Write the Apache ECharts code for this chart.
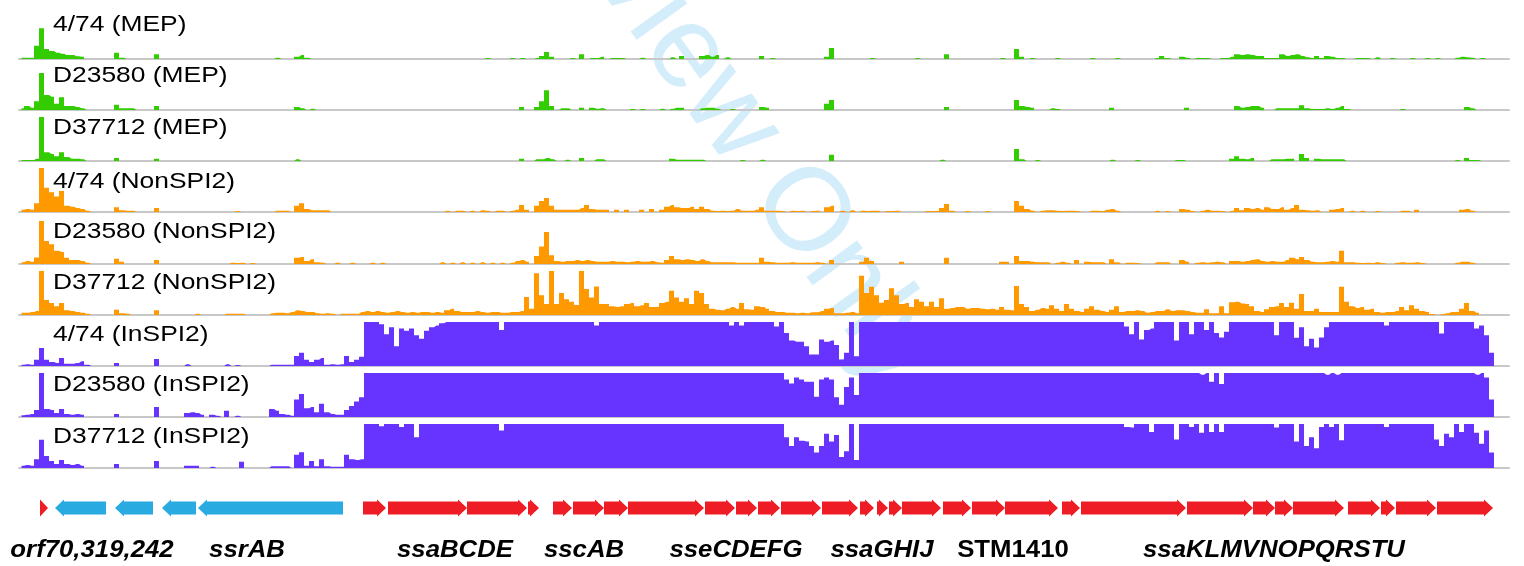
<!DOCTYPE html>
<html>
<head>
<meta charset="utf-8">
<script src="https://cdn.jsdelivr.net/npm/echarts/dist/echarts.min.js"></script>
<style>
html,body{margin:0;padding:0;background:#fff;}
#main{width:1524px;height:566px;}
</style>
</head>
<body>
<div id="main"></div>
<script>
// ---------------- DATA ----------------
const NBINS = 298; // genomic bins across the SPI-2 region
const binIndex = Array.from({length: NBINS}, (_, i) => i);

const trackLabels = ['4/74 (MEP)','D23580 (MEP)','D37712 (MEP)',
  '4/74 (NonSPI2)','D23580 (NonSPI2)','D37712 (NonSPI2)',
  '4/74 (InSPI2)','D23580 (InSPI2)','D37712 (InSPI2)'];

// MEP coverage (sparse: [bin, relative coverage %])
const mep474 = [[0,3],[1,3],[2,3],[3,30],[4,70],[5,23],[6,18],[7,14],[8,12],[9,9],[10,9],[11,6],[12,5],[19,14],[20,3],[27,11],[51,3],[55,5],[56,9],[57,3],[93,2],[98,2],[100,2],[103,2],[104,7],[105,16],[106,5],[110,2],[112,11],[114,2],[115,2],[116,5],[118,2],[119,2],[120,2],[124,3],[130,4],[132,7],[136,7],[137,9],[138,5],[139,9],[141,4],[148,7],[150,2],[161,5],[162,25],[170,2],[179,2],[185,11],[196,2],[199,23],[200,5],[202,2],[207,2],[214,2],[219,2],[227,2],[228,7],[229,2],[232,5],[233,3],[235,2],[236,2],[237,2],[240,2],[241,2],[242,5],[243,11],[244,9],[245,11],[246,9],[247,7],[248,7],[249,2],[250,2],[251,2],[252,11],[253,7],[254,9],[255,11],[256,7],[257,4],[258,2],[259,7],[260,2],[261,7],[262,5],[263,2],[264,2],[267,2],[268,2],[269,2],[271,4],[274,2],[278,2],[281,2],[283,2],[287,3],[288,5],[289,4],[290,3],[292,2]];
const mep23580 = [[0,4],[1,9],[2,5],[3,20],[4,84],[5,34],[6,30],[7,14],[8,29],[9,9],[10,9],[11,7],[12,4],[19,12],[20,4],[21,4],[22,4],[27,9],[55,7],[56,4],[58,3],[100,7],[103,7],[104,20],[105,45],[106,9],[108,4],[109,4],[112,5],[114,5],[115,3],[116,4],[122,2],[124,2],[128,3],[130,3],[131,5],[132,5],[136,4],[137,5],[138,5],[139,3],[142,2],[148,7],[149,5],[161,14],[162,23],[185,7],[199,23],[200,9],[201,7],[202,5],[206,4],[207,2],[218,5],[233,5],[243,9],[244,5],[245,7],[246,9],[247,9],[248,5],[251,4],[252,4],[253,4],[254,4],[255,4],[256,11],[257,4],[258,2],[259,2],[260,2],[261,4],[262,2],[263,5],[264,9],[265,2],[276,2],[289,7],[290,4]];
const mep37712 = [[0,2],[1,2],[2,2],[3,5],[4,100],[5,20],[6,16],[7,11],[8,20],[9,9],[10,5],[11,5],[12,4],[19,7],[27,5],[55,4],[100,5],[103,4],[104,4],[105,7],[106,4],[109,3],[112,7],[115,4],[116,4],[130,5],[131,3],[132,3],[133,3],[134,3],[135,3],[136,3],[144,2],[148,3],[162,14],[184,3],[199,27],[200,4],[203,2],[218,3],[223,2],[231,2],[232,2],[242,5],[243,11],[244,5],[245,4],[246,7],[250,4],[251,4],[252,4],[253,5],[254,5],[256,16],[257,7],[259,5],[260,4],[261,4],[262,4],[263,4],[264,4],[287,2],[289,7],[290,2],[291,2]];

// NonSPI2 coverage
const non474 = [[0,5],[1,7],[2,5],[3,20],[4,100],[5,55],[6,45],[7,35],[8,48],[9,14],[10,12],[11,9],[12,7],[13,3],[19,11],[20,4],[21,3],[22,3],[27,9],[43,2],[51,3],[52,3],[53,3],[55,14],[56,20],[57,7],[58,4],[59,4],[60,4],[61,4],[85,3],[87,3],[88,3],[90,3],[92,4],[93,3],[95,3],[96,3],[98,3],[99,5],[100,16],[101,5],[103,14],[104,25],[105,32],[106,14],[107,5],[108,5],[109,5],[110,5],[111,5],[112,9],[113,16],[114,7],[115,5],[116,5],[117,5],[119,5],[121,5],[124,5],[126,7],[128,5],[129,12],[130,16],[131,11],[132,9],[133,9],[134,12],[135,7],[136,12],[137,7],[138,3],[139,2],[140,3],[141,2],[142,3],[143,7],[144,3],[145,3],[146,3],[147,5],[148,11],[149,3],[150,3],[151,3],[152,2],[154,3],[155,2],[156,3],[158,2],[159,3],[161,11],[162,14],[164,3],[166,4],[168,3],[169,2],[170,3],[171,3],[173,2],[174,2],[175,3],[181,2],[182,2],[183,2],[184,9],[185,18],[186,3],[189,2],[193,2],[199,25],[200,14],[201,7],[202,3],[204,3],[205,4],[206,4],[207,3],[208,2],[209,3],[210,3],[211,2],[214,3],[215,3],[216,2],[217,5],[218,7],[219,3],[227,3],[229,2],[232,7],[233,5],[234,2],[236,3],[237,5],[238,3],[239,3],[240,2],[242,3],[243,9],[244,4],[245,9],[246,7],[247,9],[248,5],[249,11],[250,7],[251,7],[252,11],[253,5],[254,9],[255,16],[256,5],[257,4],[258,3],[259,4],[262,5],[263,7],[264,9],[266,3],[268,3],[271,2],[276,3],[277,3],[279,5],[288,5],[289,7],[290,3]];
const non23580 = [[0,4],[1,7],[2,5],[3,15],[4,98],[5,52],[6,45],[7,30],[8,27],[9,14],[10,9],[11,9],[12,7],[13,3],[19,12],[20,5],[27,9],[42,3],[43,2],[44,3],[46,2],[55,14],[56,16],[57,7],[58,11],[59,4],[60,3],[63,3],[66,3],[70,3],[72,3],[84,4],[86,3],[88,4],[90,3],[92,4],[94,3],[96,3],[98,3],[99,7],[100,9],[101,5],[103,18],[104,40],[105,73],[106,20],[107,7],[108,5],[109,7],[110,7],[111,9],[112,7],[113,9],[114,7],[115,5],[116,5],[117,5],[118,7],[119,5],[120,5],[121,4],[122,5],[123,7],[124,5],[125,5],[126,7],[127,4],[128,3],[129,9],[130,18],[131,11],[132,9],[133,11],[134,9],[135,7],[136,11],[137,7],[138,4],[139,4],[140,4],[141,4],[142,4],[143,3],[144,3],[145,3],[146,3],[147,3],[148,14],[149,5],[150,4],[151,3],[152,3],[153,3],[154,4],[155,3],[156,3],[157,3],[158,3],[159,4],[160,3],[162,9],[168,5],[169,14],[170,7],[176,5],[185,14],[196,5],[197,5],[199,18],[200,7],[201,7],[202,5],[203,4],[204,4],[205,4],[207,3],[208,5],[209,3],[211,9],[213,5],[214,4],[215,4],[216,4],[218,11],[219,4],[221,3],[222,3],[223,2],[227,4],[228,4],[229,4],[232,9],[233,5],[235,3],[236,4],[237,3],[238,4],[239,5],[240,4],[242,7],[243,7],[244,5],[245,7],[246,9],[247,11],[248,7],[249,5],[250,7],[251,5],[252,5],[253,9],[254,14],[255,11],[256,16],[257,9],[258,5],[259,4],[260,4],[261,5],[262,7],[263,5],[264,30],[265,4],[266,4],[267,3],[268,2],[269,3],[270,2],[271,4],[272,2],[275,3],[276,4],[277,3],[278,3],[279,4],[280,2],[287,3],[288,5],[289,5],[290,3]];
const non37712 = [
5,5,7,9,100,34,27,20,27,11,
9,7,5,3,0,0,0,0,0,12,
4,3,0,0,0,0,0,11,0,0,
0,0,0,0,0,3,0,0,0,0,
0,3,3,3,3,0,0,0,0,0,
4,5,5,4,7,11,9,7,7,4,
3,4,3,0,3,3,3,3,7,9,
7,9,7,5,7,9,7,5,7,5,
7,7,5,7,5,11,14,9,7,7,
7,9,7,5,7,7,5,5,7,7,
9,41,14,95,45,25,100,25,50,36,
30,23,100,59,40,65,25,25,20,18,
20,25,27,20,22,27,18,18,27,30,
55,40,30,38,25,55,50,25,14,12,
11,14,18,14,27,13,12,20,18,14,
9,7,7,5,5,4,5,4,6,6,
9,14,16,4,4,5,7,4,89,50,
64,45,28,34,61,45,25,27,18,36,
30,20,30,18,38,14,16,18,18,14,
16,16,14,13,14,12,18,12,11,66,
25,18,9,12,16,14,22,14,9,25,
14,9,7,14,20,12,9,7,12,20,
7,9,9,11,9,5,7,9,9,13,
9,11,11,9,7,5,5,13,4,4,
20,4,29,30,26,25,20,9,7,13,
18,20,27,18,28,14,48,9,9,14,
7,7,7,7,64,30,20,16,18,12,
14,7,5,7,7,9,18,11,22,14,
9,7,2,0,2,4,7,7,14,27,
9,5,0,0,0,0,0,0];

// InSPI2 coverage
const in474 = [
3,4,3,14,41,14,9,7,18,5,
5,7,11,3,0,0,0,0,0,7,
0,0,0,0,0,0,0,16,0,0,
0,0,0,4,0,0,0,0,0,0,
0,4,0,2,0,0,0,0,0,0,
3,3,3,3,3,23,30,14,9,14,
18,3,4,3,4,23,9,14,21,100,
100,100,95,72,88,45,85,80,85,70,
62,80,88,92,97,100,100,100,100,100,
100,100,100,100,100,100,82,100,100,100,
100,100,100,100,100,100,100,100,100,100,
100,100,100,100,100,92,100,100,100,100,
100,100,100,100,100,100,100,100,100,100,
100,100,100,100,100,100,100,100,100,100,
100,100,92,100,92,100,100,100,100,100,
100,90,100,75,58,55,55,45,26,26,
60,55,58,48,15,30,100,22,100,100,
100,100,100,100,100,100,100,100,100,100,
100,100,100,100,100,100,100,100,100,100,
100,100,100,100,100,100,100,100,100,100,
100,100,100,100,100,100,100,100,100,100,
100,100,100,100,100,100,100,100,100,100,
100,90,72,100,60,82,85,100,100,100,
100,58,100,100,72,100,100,82,100,75,
65,78,100,100,100,100,100,100,100,100,
100,70,100,100,100,64,88,45,62,42,
65,88,100,100,100,100,100,100,100,100,
100,100,100,92,100,100,100,100,100,100,
100,100,100,100,74,100,100,100,100,100,
100,85,92,70,30,0,0,0];
const in23580 = [
4,5,7,16,100,18,16,9,18,7,
5,7,5,0,0,0,0,0,0,7,
0,0,0,0,0,0,0,23,0,0,
0,0,0,9,11,9,5,0,5,3,
0,14,0,3,0,0,0,0,0,0,
18,14,7,5,3,40,52,20,23,11,
30,11,7,5,5,16,25,35,45,100,
100,100,100,100,100,100,100,100,100,100,
100,100,100,100,100,100,100,100,100,100,
100,100,100,100,100,100,100,100,100,100,
100,100,100,100,100,100,100,100,100,100,
100,100,100,100,100,100,100,100,100,100,
100,100,100,100,100,100,100,100,100,100,
100,100,100,100,100,100,100,100,100,100,
100,100,100,100,100,100,100,100,100,100,
100,100,100,85,76,90,85,80,80,46,
85,90,85,45,28,68,90,50,100,100,
100,100,100,100,100,100,100,100,100,100,
100,100,100,100,100,100,100,100,100,100,
100,100,100,100,100,100,100,100,100,100,
100,100,100,100,100,100,100,100,100,100,
100,100,100,100,100,100,100,100,100,100,
100,100,100,100,100,100,100,100,100,100,
100,100,100,100,100,100,96,100,80,100,
75,100,100,100,100,100,100,100,100,100,
100,100,100,100,100,100,100,100,100,100,
100,96,100,96,100,100,100,100,100,100,
100,100,100,100,100,100,100,100,100,100,
100,100,100,100,100,100,100,100,100,100,
100,96,100,90,40,0,0,0];
const in37712 = [
5,7,5,20,64,27,16,9,18,9,
7,9,5,0,0,0,0,0,0,9,
0,0,0,0,0,0,0,16,0,0,
0,0,0,5,5,5,0,0,3,0,
0,0,0,0,14,0,0,0,0,0,
4,4,4,4,0,30,36,5,16,4,
20,4,3,3,3,30,20,18,20,100,
100,100,95,100,100,100,93,100,100,70,
100,100,100,100,100,100,100,100,100,100,
100,100,100,100,100,100,85,100,100,100,
100,100,100,100,100,100,100,100,100,100,
100,100,100,100,100,100,100,100,100,100,
100,100,100,100,100,100,100,100,100,100,
100,100,100,100,100,100,100,100,100,100,
100,100,100,100,100,100,100,100,100,100,
100,100,100,70,50,70,62,60,50,35,
50,78,60,75,25,38,100,18,100,100,
100,100,100,100,100,100,100,100,100,100,
100,100,100,100,100,100,100,100,100,100,
100,100,100,100,100,100,100,100,100,100,
100,100,100,100,100,100,100,100,100,100,
100,100,100,100,100,100,100,100,100,100,
100,93,92,100,100,100,82,100,100,100,
100,65,100,100,93,100,80,100,82,100,
82,100,100,100,100,100,100,100,100,100,
100,92,100,100,100,60,100,50,70,45,
93,100,93,100,63,100,100,100,100,100,
100,100,100,93,100,100,100,100,100,100,
100,100,100,65,50,78,70,100,82,100,
100,80,55,85,35,0,0,0];

// Genes (in bin units), strand +1 forward / -1 reverse
const geneStart  = [4.2,7.2,19.2,28.6,35.8,68.8,73.8,89.6,101.8,106.8,110.8,117.0,121.8,137.2,143.4,147.8,152.4,160.6,168.2,171.6,174.0,176.6,184.8,190.6,197.2,208.6,212.4,233.6,246.8,251.2,254.8,265.8,272.4,275.4,283.6];
const geneEnd    = [5.8,17.4,26.8,35.4,64.8,73.4,89.6,101.6,104.0,110.6,117.0,121.8,137.0,143.2,147.6,152.2,160.4,167.8,171.0,173.8,176.6,184.4,190.4,197.2,207.8,212.2,233.4,246.8,251.2,254.8,265.0,272.2,275.2,283.4,294.8];
const geneStrand = [1,-1,-1,-1,-1,1,1,1,1,1,1,1,1,1,1,1,1,1,1,1,1,1,1,1,1,1,1,1,1,1,1,1,1,1,1];
const geneLabels = ['orf70,319,242','ssrAB','ssaBCDE','sscAB','sseCDEFG','ssaGHIJ','STM1410','ssaKLMVNOPQRSTU'];
const geneLabelItalic = [true,true,true,true,true,true,false,true];

// ---------------- LAYOUT / STYLE ----------------
function fromPairs(pairs){ const a = new Array(NBINS).fill(0); pairs.forEach(p => { a[p[0]] = p[1]; }); return a; }
const trackData = [fromPairs(mep474), fromPairs(mep23580), fromPairs(mep37712),
  fromPairs(non474), fromPairs(non23580), non37712, in474, in23580, in37712];
const GREEN = '#33cc00', ORANGE = '#ff9900', PURPLE = '#6633ff';
const trackColors = [GREEN,GREEN,GREEN,ORANGE,ORANGE,ORANGE,PURPLE,PURPLE,PURPLE];
const baselines = [59,110,161,212,264,315,366,417,468];
const labelY = [25,76,128,182,232,283,335,385,437];
const geneLabelX = [92,247,455,584,736,882,1013,1274];
const GL = 19, GW = 1490, TH = 44;

const grids = [], xAxes = [], yAxes = [], series = [];
trackData.forEach((d, k) => {
  grids.push({left: GL, width: GW, top: baselines[k] - TH, height: TH});
  xAxes.push({type: 'category', gridIndex: k, data: binIndex, boundaryGap: true,
    axisLine: {show: true, onZero: false, lineStyle: {color: '#c8c8c8', width: 2}},
    axisTick: {show: false}, axisLabel: {show: false}, splitLine: {show: false}});
  yAxes.push({type: 'value', gridIndex: k, min: 0, max: 100, show: false, splitLine: {show: false}});
  series.push({type: 'line', xAxisIndex: k, yAxisIndex: k, data: d, step: 'middle',
    symbol: 'none', silent: true, z: 3,
    lineStyle: {width: 0, opacity: 0},
    areaStyle: {color: trackColors[k], opacity: 1}});
});
// gene grid
grids.push({left: GL, width: GW, top: 490, height: 36});
xAxes.push({type: 'value', gridIndex: 9, min: 0, max: NBINS, show: false});
yAxes.push({type: 'value', gridIndex: 9, min: 0, max: 1, show: false});
series.push({
  type: 'custom', xAxisIndex: 9, yAxisIndex: 9, silent: true,
  data: geneStart.map((s, i) => [s, geneEnd[i], geneStrand[i]]),
  encode: {x: [0, 1]},
  renderItem: function (params, api) {
    const a = api.coord([api.value(0), 0.5]);
    const b = api.coord([api.value(1), 0.5]);
    const dir = api.value(2);
    const x0 = a[0], x1 = b[0], y = a[1];
    const hl = Math.min(9, x1 - x0), bh = 6.5, hh = 8.5;
    let pts;
    if (dir > 0) {
      pts = [[x0,y-bh],[x1-hl,y-bh],[x1-hl,y-hh],[x1,y],[x1-hl,y+hh],[x1-hl,y+bh],[x0,y+bh]];
    } else {
      pts = [[x1,y-bh],[x0+hl,y-bh],[x0+hl,y-hh],[x0,y],[x0+hl,y+hh],[x0+hl,y+bh],[x1,y+bh]];
    }
    return {type: 'polygon', shape: {points: pts},
      style: {fill: dir > 0 ? '#ee1c25' : '#29abe2', stroke: null}};
  }
});

const graphics = [];
trackLabels.forEach((t, k) => {
  graphics.push({type: 'text', x: 53, y: labelY[k], scaleX: 1.2, z: 50, silent: true,
    style: {text: t, font: '22px "Liberation Sans", Arial, sans-serif', fill: '#000',
      textAlign: 'left', align: 'left', textVerticalAlign: 'middle', verticalAlign: 'middle'}});
});
geneLabels.forEach((t, i) => {
  graphics.push({type: 'text', x: geneLabelX[i], y: 551, scaleX: 1.12, z: 50, silent: true,
    style: {text: t, font: (geneLabelItalic[i] ? 'italic ' : '') + 'bold 23px "Liberation Sans", Arial, sans-serif',
      fill: '#000', textAlign: 'center', align: 'center', textVerticalAlign: 'middle', verticalAlign: 'middle'}});
});
// watermark (under the data)
graphics.push({type: 'text', x: 408, y: -335, rotation: -0.949, z: -10, silent: true,
  style: {text: 'For Review Only', font: '118px "Liberation Sans", Arial, sans-serif',
    fill: 'rgba(100,190,240,0.28)', textAlign: 'left', align: 'left',
    textVerticalAlign: 'middle', verticalAlign: 'middle'}});

const chart = echarts.init(document.getElementById('main'), null, {renderer: 'canvas'});
chart.setOption({
  animation: false,
  backgroundColor: '#ffffff',
  grid: grids, xAxis: xAxes, yAxis: yAxes, series: series,
  graphic: graphics
});
</script>
</body>
</html>
